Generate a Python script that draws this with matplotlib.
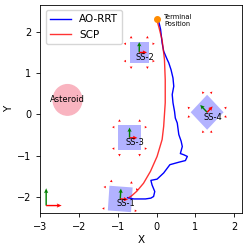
import numpy as np
import matplotlib
matplotlib.use("Agg")
import matplotlib.pyplot as plt
from matplotlib.patches import Circle, Polygon

### Trajectories ###
rrt_x = [-0.75, -0.59, -0.29, -0.15, -0.08, -0.05, -0.12, -0.15, 0.01, 0.18, 0.34, 0.57, 0.74, 0.79,
         0.70, 0.61, 0.66, 0.63, 0.57, 0.53, 0.48, 0.46, 0.42, 0.40, 0.44, 0.42, 0.37, 0.31, 0.27,
         0.18, 0.14, 0.10, 0.05, 0.0]
rrt_y = [-2.02, -2.05, -2.05, -2.03, -1.99, -1.87, -1.71, -1.60, -1.57, -1.42, -1.22, -1.16, -1.12, -1.02,
         -0.98, -0.95, -0.78, -0.65, -0.49, -0.21, -0.09, 0.07, 0.28, 0.48, 0.68, 0.88, 1.08, 1.25, 1.33,
         1.53, 1.73, 2.06, 2.26, 2.30]
scp_x = [-0.72, -0.64, -0.51, -0.34, -0.16, 0.01, 0.14, 0.18, 0.22, 0.22, 0.20, 0.14, 0.06, 0.0]
scp_y = [-2.02, -1.97, -1.86, -1.67, -1.38, -1.02, -0.61, -0.29, 0.28, 0.84, 1.33, 1.80, 2.10, 2.30]

### Spacecraft (center x, center y, side, angle in deg) ###
ss_names = ["SS-1", "SS-2", "SS-3", "SS-4"]
ss_x = [-0.94, -0.45, -0.70, 1.30]
ss_y = [-2.05, 1.50, -0.57, 0.05]
ss_side = [0.6, 0.5, 0.6, 0.6]
ss_angle = [-4, 0, 0, 45]

asteroid_xy = (-2.3, 0.35)
asteroid_r = 0.37
terminal = (0.0, 2.3)


def rot(px, py, ang):
    a = np.deg2rad(ang)
    return px*np.cos(a) - py*np.sin(a), px*np.sin(a) + py*np.cos(a)


fig, ax = plt.subplots(figsize=(2.49, 2.49), dpi=100)
fig.subplots_adjust(left=0.162, right=0.972, bottom=0.143, top=0.98)

ax.add_patch(Circle(asteroid_xy, asteroid_r, color="#f9b4c0", zorder=1))
ax.text(asteroid_xy[0], asteroid_xy[1], "Asteroid", fontsize=6, ha="center", va="center")

for name, cx, cy, s, ang in zip(ss_names, ss_x, ss_y, ss_side, ss_angle):
    h = s/2
    corners = [rot(px, py, ang) for px, py in [(-h, -h), (h, -h), (h, h), (-h, h)]]
    ax.add_patch(Polygon([(cx+px, cy+py) for px, py in corners], color="blue", alpha=0.3, lw=0, zorder=2))
    # thrusters at the corners, pointing outwards
    d = 0.09; e = 0.04; L = 0.06
    for sx in (-1, 1):
        for sy in (-1, 1):
            for (px, py, ux, uy) in [(sx*(h+d), sy*(h-e), sx*L, 0), (sx*(h-e), sy*(h+d), 0, sy*L)]:
                qx, qy = rot(px, py, ang)
                vx, vy = rot(ux, uy, ang)
                ax.quiver(cx+qx, cy+qy, vx, vy, angles="xy", scale_units="xy", scale=1, color="red",
                          width=0.004, headwidth=5, headlength=4.5, headaxislength=4, zorder=3)
    # body frame
    gx, gy = rot(0, 0.25, ang)
    rx, ry = rot(0.2, 0, ang)
    ax.quiver(cx, cy, gx, gy, angles="xy", scale_units="xy", scale=1, color="green",
              width=0.007, headwidth=3, headlength=3, headaxislength=2.7, zorder=4)
    ax.quiver(cx, cy, rx, ry, angles="xy", scale_units="xy", scale=1, color="red",
              width=0.007, headwidth=3, headlength=3, headaxislength=2.7, zorder=4)
    ax.text(cx+0.15, cy-0.12, name, fontsize=6, ha="center", va="center", zorder=5)

### Inertial frame ###
ax.quiver(-2.85, -2.21, 0, 0.42, angles="xy", scale_units="xy", scale=1, color="green",
          width=0.007, headwidth=3, headlength=3.5, headaxislength=3)
ax.quiver(-2.85, -2.21, 0.4, 0, angles="xy", scale_units="xy", scale=1, color="red",
          width=0.007, headwidth=3, headlength=3.5, headaxislength=3)

l1, = ax.plot(rrt_x, rrt_y, color="blue", lw=1, zorder=6)
l2, = ax.plot(scp_x, scp_y, color="red", lw=1, alpha=0.8, zorder=6)
ax.plot(*terminal, "o", color="darkorange", ms=4, zorder=7)
ax.text(terminal[0]+0.2, terminal[1]-0.02, "Terminal\nPosition", fontsize=4.8, ha="left", va="center")

ax.legend([l1, l2], ["AO-RRT", "SCP"], loc="upper left", fontsize=7.5, handlelength=2.0)
ax.set_xlim(-3, 2.2)
ax.set_ylim(-2.4, 2.65)
ax.set_xticks([-3, -2, -1, 0, 1, 2])
ax.set_yticks([-2, -1, 0, 1, 2])
ax.tick_params(labelsize=7, length=3, width=0.6)
ax.set_xlabel("X", fontsize=7.5, labelpad=2)
ax.set_ylabel("Y", fontsize=7.5, labelpad=2)
for sp in ax.spines.values():
    sp.set_linewidth(0.6)

plt.savefig("out.png", dpi=100)
